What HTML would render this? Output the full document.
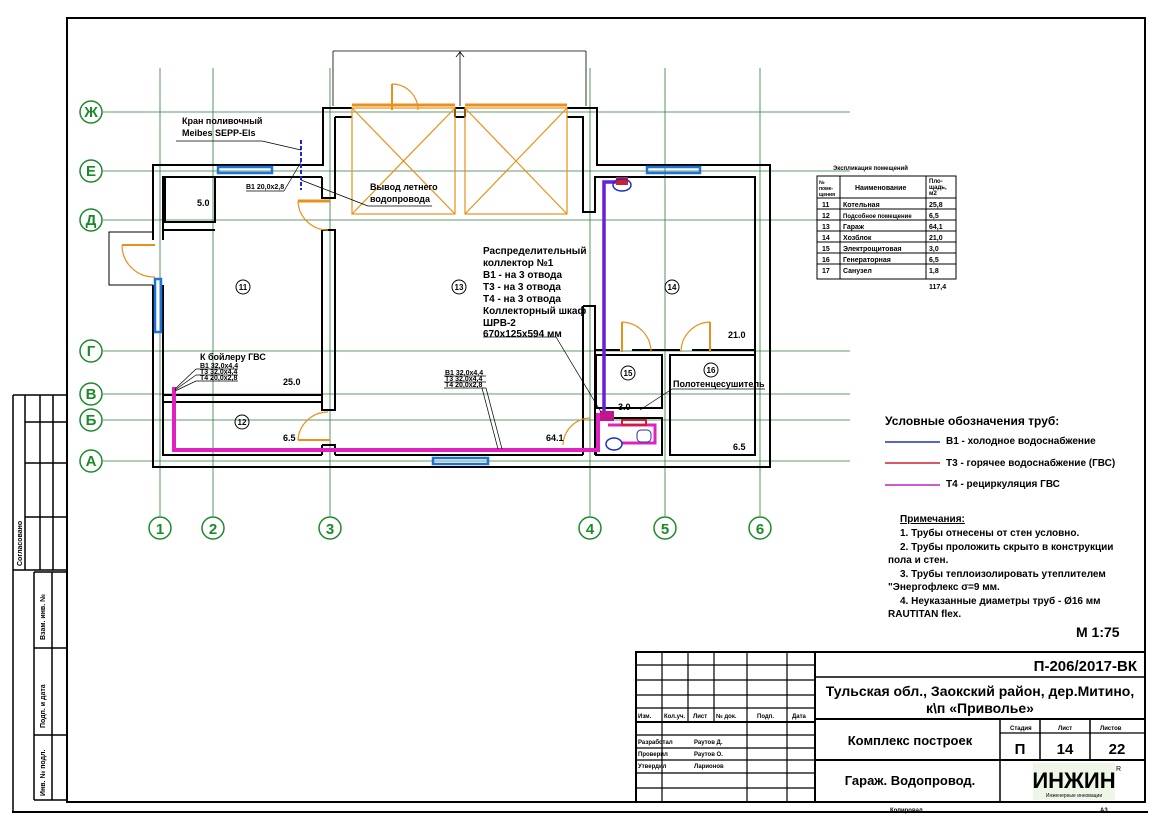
<!DOCTYPE html>
<html><head><meta charset="utf-8"><style>
html,body{margin:0;padding:0;background:#fff;}
svg{display:block;}
text{font-family:"Liberation Sans","Noto Sans CJK SC",sans-serif;fill:#000;}
.s{font-size:7px;font-weight:bold;}
.m{font-size:9px;font-weight:bold;}
.ax{font-size:15px;fill:#1a8a2a;text-anchor:middle;font-weight:bold;}
</style></head><body>
<svg width="1166" height="824" viewBox="0 0 1166 824" xmlns="http://www.w3.org/2000/svg">
<rect width="1166" height="824" fill="#fff"/>
<rect x="67" y="18" width="1078" height="784" fill="none" stroke="#000" stroke-width="2"/>
<line x1="12" y1="812" x2="1148" y2="812" stroke="#000" stroke-width="2"/>
<line x1="13" y1="395" x2="13" y2="812" stroke="#000" stroke-width="1.5"/>
<line x1="13" y1="395" x2="67" y2="395" stroke="#000" stroke-width="1.5"/>
<g stroke="#000" stroke-width="1.5" fill="none">
<line x1="25" y1="395" x2="25" y2="570"/><line x1="40" y1="395" x2="40" y2="570"/><line x1="53" y1="395" x2="53" y2="570"/>
<line x1="25" y1="422" x2="67" y2="422"/><line x1="25" y1="463" x2="67" y2="463"/><line x1="25" y1="517" x2="67" y2="517"/>
<line x1="13" y1="570" x2="67" y2="570"/>
<line x1="34" y1="572" x2="34" y2="800"/><line x1="52" y1="572" x2="52" y2="800"/>
<line x1="34" y1="572" x2="67" y2="572"/><line x1="34" y1="648" x2="67" y2="648"/><line x1="34" y1="735" x2="67" y2="735"/><line x1="34" y1="800" x2="67" y2="800"/>
</g>
<text class="s" transform="translate(22,566) rotate(-90)">Согласовано</text>
<text class="s" transform="translate(45,640) rotate(-90)">Взам. инв. №</text>
<text class="s" transform="translate(45,728) rotate(-90)">Подп. и дата</text>
<text class="s" transform="translate(45,796) rotate(-90)">Инв. № подл.</text>

<g stroke="#2f7a3a" stroke-width="0.8">
<line x1="160" y1="68" x2="160" y2="516"/><line x1="213" y1="68" x2="213" y2="516"/><line x1="330" y1="68" x2="330" y2="516"/>
<line x1="590" y1="68" x2="590" y2="516"/><line x1="665" y1="68" x2="665" y2="516"/><line x1="760" y1="68" x2="760" y2="516"/>
<line x1="103" y1="112" x2="850" y2="112"/><line x1="103" y1="171" x2="850" y2="171"/><line x1="103" y1="220" x2="850" y2="220"/>
<line x1="103" y1="351" x2="850" y2="351"/><line x1="103" y1="394" x2="850" y2="394"/><line x1="103" y1="420" x2="850" y2="420"/><line x1="103" y1="461" x2="850" y2="461"/>
</g>
<g fill="#fff" stroke="#1a8a2a" stroke-width="1.5">
<circle cx="160" cy="528" r="11"/><circle cx="213" cy="528" r="11"/><circle cx="330" cy="528" r="11"/>
<circle cx="590" cy="528" r="11"/><circle cx="665" cy="528" r="11"/><circle cx="760" cy="528" r="11"/>
<circle cx="91" cy="112" r="11"/><circle cx="91" cy="171" r="11"/><circle cx="91" cy="220" r="11"/>
<circle cx="91" cy="351" r="11"/><circle cx="91" cy="394" r="11"/><circle cx="91" cy="420" r="11"/><circle cx="91" cy="461" r="11"/>
</g>
<text class="ax" x="160" y="534">1</text><text class="ax" x="213" y="534">2</text><text class="ax" x="330" y="534">3</text>
<text class="ax" x="590" y="534">4</text><text class="ax" x="665" y="534">5</text><text class="ax" x="760" y="534">6</text>
<text class="ax" x="91" y="117">Ж</text><text class="ax" x="91" y="176">Е</text><text class="ax" x="91" y="225">Д</text>
<text class="ax" x="91" y="356">Г</text><text class="ax" x="91" y="399">В</text><text class="ax" x="91" y="425">Б</text><text class="ax" x="91" y="466">А</text>

<g stroke="#000" stroke-width="0.8" fill="none">
<line x1="333" y1="51" x2="586" y2="51"/><line x1="333" y1="51" x2="333" y2="106"/><line x1="586" y1="51" x2="586" y2="106"/>
<line x1="460" y1="51" x2="460" y2="106"/><polyline points="456,57 460,52 464,57"/>
</g>

<g stroke="#000" stroke-width="2" fill="none">
<polyline points="153,240 153,165 323,165 323,108 352,108"/>
<polyline points="153,285 153,467 770,467 770,165 647,165"/>
<polyline points="567,108 597,108 597,165 647,165"/>
<line x1="455" y1="108" x2="465" y2="108"/><line x1="455" y1="108" x2="455" y2="117"/><line x1="465" y1="108" x2="465" y2="117"/><line x1="455" y1="117" x2="465" y2="117"/>
<polyline points="163,240 163,177 322,177"/>
<polyline points="163,285 163,455 322,455"/>
<polyline points="335,455 583,455"/>
<polyline points="335,117 352,117"/><polyline points="567,117 583,117 583,212 595,212 595,177 755,177 755,455 670,455"/>
<polyline points="322,177 322,198 335,198 335,117"/>
<polyline points="322,230 335,230 335,410 322,410 322,230"/>
<polyline points="322,445 335,445 335,455"/><line x1="322" y1="445" x2="322" y2="455"/>
<rect x="165" y="177" width="50" height="45"/>
<line x1="163" y1="230" x2="215" y2="230"/>
<line x1="163" y1="395" x2="322" y2="395"/><line x1="163" y1="402" x2="322" y2="402"/>
<polyline points="583,306 595,306 595,455"/><line x1="583" y1="306" x2="583" y2="455"/>
<polyline points="596,350 620,350"/><polyline points="632,350 680,350"/><polyline points="692,350 755,350"/>
<rect x="596" y="355" width="66" height="53"/>
<rect x="596" y="418" width="66" height="37"/>
<rect x="670" y="355" width="85" height="100"/>
</g>
<polyline points="153,232 109,232 109,285 153,285" fill="none" stroke="#000" stroke-width="1"/>

<g stroke="#1e73d8" stroke-width="2.5" fill="none">
<rect x="218" y="167" width="54" height="6"/><rect x="155" y="279" width="6" height="53"/>
<rect x="433" y="458" width="55" height="6"/><rect x="647" y="167" width="53" height="6"/>
</g>

<g stroke="#e8901c" stroke-width="1.2" fill="none">
<line x1="352" y1="105" x2="455" y2="105" stroke-width="3"/><line x1="465" y1="105" x2="567" y2="105" stroke-width="3"/>
<rect x="352" y="108" width="103" height="106"/><rect x="465" y="108" width="102" height="106"/>
<line x1="352" y1="108" x2="455" y2="214"/><line x1="455" y1="108" x2="352" y2="214"/>
<line x1="465" y1="108" x2="567" y2="214"/><line x1="567" y1="108" x2="465" y2="214"/>
<line x1="392" y1="84" x2="392" y2="110" stroke-width="2"/><path d="M392,84 A26,26 0 0 1 418,110"/>
<line x1="298" y1="201" x2="330" y2="201" stroke-width="3"/><path d="M298,201 A30,30 0 0 0 328,230"/>
<line x1="122" y1="245" x2="155" y2="245" stroke-width="2"/><path d="M122,245 A32,32 0 0 0 155,277"/>
<line x1="298" y1="440" x2="330" y2="440" stroke-width="2"/><path d="M298,440 A30,30 0 0 1 328,412"/>
<path d="M563,445 A28,28 0 0 1 590,418"/>
<line x1="622" y1="322" x2="622" y2="352" stroke-width="2"/><path d="M622,322 A30,30 0 0 1 651,352"/>
<line x1="710" y1="322" x2="710" y2="352" stroke-width="2"/><path d="M710,322 A30,30 0 0 0 681,352"/>
</g>

<polyline points="174,387 174,450 598,450 598,415 608,415" fill="none" stroke="#e020c0" stroke-width="4"/>
<polyline points="608,425 655,425 655,443 622,443" fill="none" stroke="#e020c0" stroke-width="3"/>
<polyline points="604,420 604,182 620,182" fill="none" stroke="#6a1fd8" stroke-width="3.5"/>
<rect x="616" y="177" width="12" height="8" fill="#d02030"/>
<ellipse cx="622" cy="185" rx="9" ry="6" fill="none" stroke="#2030c0" stroke-width="1.5"/>
<rect x="600" y="411" width="14" height="10" fill="#c0188c"/>
<rect x="622" y="420" width="24" height="5" fill="none" stroke="#d02030" stroke-width="2"/>
<ellipse cx="614" cy="444" rx="8" ry="6" fill="none" stroke="#2030c0" stroke-width="1.5"/>
<rect x="637" y="430" width="14" height="12" rx="4" fill="none" stroke="#2030c0" stroke-width="1"/>
<line x1="301" y1="140" x2="301" y2="190" stroke="#1a2ad0" stroke-width="2" stroke-dasharray="4,2"/>

<g stroke="#000" stroke-width="0.7" fill="none">
<line x1="176" y1="141" x2="262" y2="141"/><line x1="262" y1="141" x2="301" y2="150"/>
<line x1="246" y1="191" x2="284" y2="191"/><line x1="284" y1="191" x2="301" y2="162"/>
<line x1="301" y1="180" x2="368" y2="206"/><line x1="368" y1="206" x2="432" y2="206"/>
<line x1="196" y1="369" x2="238" y2="369"/><line x1="196" y1="375" x2="238" y2="375"/><line x1="196" y1="381" x2="238" y2="381"/>
<line x1="196" y1="369" x2="175" y2="389"/><line x1="196" y1="375" x2="175" y2="390"/><line x1="196" y1="381" x2="175" y2="391"/>
<line x1="444" y1="376" x2="486" y2="376"/><line x1="444" y1="382" x2="486" y2="382"/><line x1="444" y1="388" x2="486" y2="388"/>
<line x1="482" y1="388" x2="498" y2="449"/><line x1="486" y1="388" x2="502" y2="449"/>
<line x1="483" y1="337" x2="556" y2="337"/><line x1="556" y1="337" x2="601" y2="412"/>
<line x1="672" y1="389" x2="765" y2="389"/><line x1="672" y1="389" x2="640" y2="410"/>
</g>

<text class="m" x="182" y="124">Кран поливочный</text>
<text class="m" x="182" y="136">Meibes SEPP-Els</text>
<text class="s" x="246" y="189">В1 20,0х2,8</text>
<text class="m" x="370" y="190">Вывод летнего</text>
<text class="m" x="370" y="202">водопровода</text>
<text class="m" x="197" y="206">5.0</text>
<text class="m" x="200" y="360">К бойлеру ГВС</text>
<text class="s" x="200" y="368">В1 32,0х4,4</text><text class="s" x="200" y="374">Т3 32,0х4,4</text><text class="s" x="200" y="380">Т4 20,0х2,8</text>
<text class="s" x="445" y="375">В1 32,0х4,4</text><text class="s" x="445" y="381">Т3 32,0х4,4</text><text class="s" x="445" y="387">Т4 20,0х2,8</text>
<text class="m" x="283" y="385">25.0</text>
<text class="m" x="283" y="441">6.5</text>
<text class="m" x="546" y="441">64.1</text>
<text class="m" x="728" y="338">21.0</text>
<text class="m" x="618" y="410">3.0</text>
<text class="m" x="733" y="450">6.5</text>
<text class="m" x="673" y="387">Полотенцесушитель</text>
<g font-size="10" font-weight="bold">
<text x="483" y="254">Распределительный</text><text x="483" y="266">коллектор №1</text>
<text x="483" y="278">В1 - на 3 отвода</text><text x="483" y="290">Т3 - на 3 отвода</text>
<text x="483" y="302">Т4 - на 3 отвода</text><text x="483" y="314">Коллекторный шкаф</text>
<text x="483" y="326">ШРВ-2</text><text x="483" y="337">670х125х594 мм</text>
</g>
<g fill="none" stroke="#000" stroke-width="1">
<circle cx="243" cy="287" r="7"/><circle cx="459" cy="287" r="7"/><circle cx="672" cy="287" r="7"/>
<circle cx="242" cy="422" r="7"/><circle cx="628" cy="373" r="7"/><circle cx="711" cy="370" r="7"/>
</g>
<g font-size="8" font-weight="bold" text-anchor="middle">
<text x="243" y="290">11</text><text x="459" y="290">13</text><text x="672" y="290">14</text>
<text x="242" y="425">12</text><text x="628" y="376">15</text><text x="711" y="373">16</text>
</g>

<text x="833" y="170" font-size="6" font-weight="bold">Экспликация помещений</text>
<g stroke="#000" stroke-width="1" fill="none">
<rect x="817" y="176" width="139" height="103"/>
<line x1="840" y1="176" x2="840" y2="279"/><line x1="926" y1="176" x2="926" y2="279"/>
<line x1="817" y1="198" x2="956" y2="198"/><line x1="817" y1="209" x2="956" y2="209"/><line x1="817" y1="220" x2="956" y2="220"/>
<line x1="817" y1="231" x2="956" y2="231"/><line x1="817" y1="242" x2="956" y2="242"/><line x1="817" y1="253" x2="956" y2="253"/><line x1="817" y1="264" x2="956" y2="264"/>
</g>
<g font-size="7" font-weight="bold">
<text x="819" y="184" font-size="5">№</text><text x="819" y="190" font-size="5">поме-</text><text x="819" y="196" font-size="5">щения</text>
<text x="855" y="190">Наименование</text>
<text x="929" y="183" font-size="6">Пло-</text><text x="929" y="189" font-size="6">щадь,</text><text x="929" y="195" font-size="6">м2</text>
<text x="822" y="207">11</text><text x="843" y="207">Котельная</text><text x="929" y="207">25,8</text>
<text x="822" y="218">12</text><text x="843" y="218" font-size="6">Подсобное помещение</text><text x="929" y="218">6,5</text>
<text x="822" y="229">13</text><text x="843" y="229">Гараж</text><text x="929" y="229">64,1</text>
<text x="822" y="240">14</text><text x="843" y="240">Хозблок</text><text x="929" y="240">21,0</text>
<text x="822" y="251">15</text><text x="843" y="251">Электрощитовая</text><text x="929" y="251">3,0</text>
<text x="822" y="262">16</text><text x="843" y="262">Генераторная</text><text x="929" y="262">6,5</text>
<text x="822" y="273">17</text><text x="843" y="273">Санузел</text><text x="929" y="273">1,8</text>
<text x="929" y="289">117,4</text>
</g>

<text x="885" y="425" font-size="12" font-weight="bold">Условные обозначения  труб:</text>
<line x1="885" y1="442" x2="940" y2="442" stroke="#2030c0" stroke-width="1.5"/>
<line x1="885" y1="463" x2="940" y2="463" stroke="#d02030" stroke-width="1.5"/>
<line x1="885" y1="485" x2="940" y2="485" stroke="#c020c0" stroke-width="1.5"/>
<g font-size="10" font-weight="bold">
<text x="946" y="444">В1 - холодное водоснабжение</text>
<text x="946" y="466">Т3 - горячее водоснабжение (ГВС)</text>
<text x="946" y="487">Т4 - рециркуляция ГВС</text>
<text x="900" y="522" text-decoration="underline">Примечания:</text>
<text x="900" y="536">1. Трубы отнесены от стен условно.</text>
<text x="900" y="550">2. Трубы проложить скрыто в конструкции</text>
<text x="888" y="563">пола и стен.</text>
<text x="900" y="577">3. Трубы теплоизолировать утеплителем</text>
<text x="888" y="590">"Энергофлекс σ=9 мм.</text>
<text x="900" y="604">4. Неуказанные диаметры труб - Ø16 мм</text>
<text x="888" y="617">RAUTITAN flex.</text>
</g>
<text x="1076" y="637" font-size="14" font-weight="bold">М 1:75</text>

<g stroke="#000" fill="none">
<rect x="636" y="652" width="509" height="150" stroke-width="2"/>
<line x1="815" y1="652" x2="815" y2="802" stroke-width="2"/>
<g stroke-width="1.2">
<line x1="662" y1="652" x2="662" y2="802"/><line x1="688" y1="652" x2="688" y2="722"/><line x1="714" y1="652" x2="714" y2="722"/>
<line x1="747" y1="652" x2="747" y2="802"/><line x1="787" y1="652" x2="787" y2="802"/>
<line x1="636" y1="665" x2="815" y2="665"/><line x1="636" y1="680" x2="815" y2="680"/><line x1="636" y1="695" x2="815" y2="695"/>
<line x1="636" y1="708" x2="815" y2="708"/><line x1="636" y1="722" x2="815" y2="722" stroke-width="2"/>
<line x1="636" y1="735" x2="815" y2="735"/><line x1="636" y1="748" x2="815" y2="748"/><line x1="636" y1="760" x2="815" y2="760"/>
<line x1="636" y1="773" x2="815" y2="773"/><line x1="636" y1="788" x2="815" y2="788"/>
</g>
<line x1="815" y1="677" x2="1145" y2="677" stroke-width="1.5"/>
<line x1="815" y1="719" x2="1145" y2="719" stroke-width="2"/>
<line x1="815" y1="760" x2="1145" y2="760" stroke-width="2"/>
<line x1="1000" y1="719" x2="1000" y2="802" stroke-width="1.5"/>
<line x1="1040" y1="719" x2="1040" y2="760" stroke-width="1.5"/>
<line x1="1090" y1="719" x2="1090" y2="760" stroke-width="1.5"/>
<line x1="1000" y1="733" x2="1145" y2="733" stroke-width="1.2"/>
</g>
<g font-size="6" font-weight="bold">
<text x="638" y="718">Изм.</text><text x="664" y="718">Кол.уч.</text><text x="693" y="718">Лист</text><text x="716" y="718">№ док.</text><text x="757" y="718">Подп.</text><text x="792" y="718">Дата</text>
<text x="638" y="744">Разработал</text><text x="694" y="744">Раутов Д.</text>
<text x="638" y="756">Проверил</text><text x="694" y="756">Раутов О.</text>
<text x="638" y="768">Утвердил</text><text x="694" y="768">Ларионов</text>
<text x="1010" y="730">Стадия</text><text x="1058" y="730">Лист</text><text x="1100" y="730">Листов</text>
<text x="890" y="812">Копировал</text><text x="1100" y="812">А3</text>
</g>
<g font-weight="bold">
<text x="1137" y="671" font-size="15" text-anchor="end">П-206/2017-ВК</text>
<text x="980" y="696" font-size="14" text-anchor="middle">Тульская обл., Заокский район, дер.Митино,</text>
<text x="980" y="713" font-size="14" text-anchor="middle">к\п «Привольe»</text>
<text x="910" y="745" font-size="13" text-anchor="middle">Комплекс построек</text>
<text x="1020" y="754" font-size="15" text-anchor="middle">П</text>
<text x="1065" y="754" font-size="15" text-anchor="middle">14</text>
<text x="1117" y="754" font-size="15" text-anchor="middle">22</text>
<text x="910" y="785" font-size="13" text-anchor="middle">Гараж. Водопровод.</text>
</g>
<rect x="1033" y="763" width="82" height="37" fill="#eef6e8"/>
<text x="1074" y="788" font-size="22" font-weight="bold" text-anchor="middle" fill="#111">ИНЖИН</text>
<text x="1074" y="797" font-size="5" text-anchor="middle" fill="#3a9a3a">Инженерные инновации</text>
<text x="1116" y="771" font-size="7">R</text>
</svg>
</body></html>
